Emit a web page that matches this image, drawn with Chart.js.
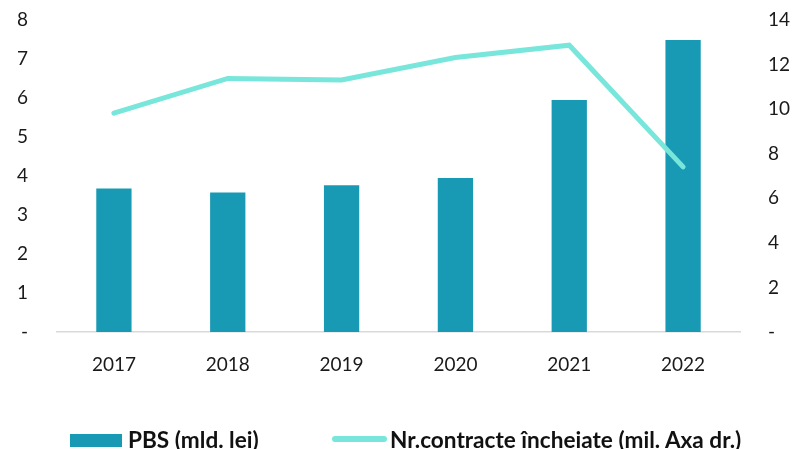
<!DOCTYPE html>
<html>
<head>
<meta charset="utf-8">
<script src="https://cdn.jsdelivr.net/npm/chart.js@4.4.0/dist/chart.umd.min.js"></script>
<style>
    html, body { margin: 0; padding: 0; background: #fff; }
    #wrap { position: relative; width: 797px; height: 449px; }
    #legend { position: absolute; left: 0; top: 426px; width: 797px; height: 26px; }
    .item { position: absolute; top: 0; height: 26px; display: flex; align-items: center;
            font-family: Lato, "Open Sans", sans-serif; font-size: 22.6px; font-weight: bold; color: #111; white-space: nowrap; }
    .swatch { margin-right: 6px; }
</style>
</head>
<body>
<div id="wrap">
    <canvas id="chart" width="797" height="449"></canvas>
    <div id="legend"></div>
</div>
<script>
    const years = ['2017', '2018', '2019', '2020', '2021', '2022'];
    const pbsValues = [3.68, 3.58, 3.76, 3.95, 5.95, 7.49];
    const contractValues = [9.82, 11.38, 11.31, 12.32, 12.87, 7.41];
    const leftTicks = [0, 1, 2, 3, 4, 5, 6, 7, 8];
    const rightTicks = [0, 2, 4, 6, 8, 10, 12, 14];

    const barColor = '#199ab4';
    const lineColor = '#78e6da';
    const fontFamily = 'Lato, "Open Sans", sans-serif';

    // zero shows as a dash, like the source sheet
    function dashZero(value) {
        return value === 0 ? '-' : String(value);
    }

    // keep the plot area fixed; no extra room for half labels
    function fixWidth(scale) {
        scale.width = 57;
        scale.paddingTop = 0;
        scale.paddingBottom = 0;
    }

    const ctx = document.getElementById('chart').getContext('2d');
    const chart = new Chart(ctx, {
        type: 'bar',
        data: {
            labels: years,
            datasets: [
                {
                    type: 'bar',
                    label: 'PBS (mld. lei)',
                    data: pbsValues,
                    yAxisID: 'y',
                    backgroundColor: barColor,
                    categoryPercentage: 1,
                    barPercentage: 0.31,
                    order: 1
                },
                {
                    type: 'line',
                    label: 'Nr.contracte încheiate (mil. Axa dr.)',
                    data: contractValues,
                    yAxisID: 'y1',
                    borderColor: lineColor,
                    backgroundColor: lineColor,
                    borderWidth: 5,
                    borderCapStyle: 'round',
                    pointRadius: 0,
                    tension: 0,
                    order: 0
                }
            ]
        },
        options: {
            responsive: false,
            animation: false,
            layout: { padding: { top: 20, bottom: 57 } },
            scales: {
                x: {
                    grid: { display: false, drawTicks: false },
                    border: { color: '#d9d9d9', width: 1.5 },
                    ticks: { color: '#1a1a1a', font: { family: fontFamily, size: 19 }, padding: 21 },
                    afterFit: function(scale) { scale.height = 60; }
                },
                y: {
                    position: 'left',
                    min: 0,
                    max: 8,
                    afterBuildTicks: function(scale) { scale.ticks = leftTicks.map(v => ({ value: v })); },
                    grid: { display: false, drawTicks: false },
                    border: { display: false },
                    ticks: { color: '#1a1a1a', font: { family: fontFamily, size: 19 }, padding: 29, callback: dashZero },
                    afterFit: fixWidth
                },
                y1: {
                    position: 'right',
                    min: 0,
                    max: 14,
                    afterBuildTicks: function(scale) { scale.ticks = rightTicks.map(v => ({ value: v })); },
                    grid: { display: false, drawTicks: false },
                    border: { display: false },
                    ticks: { color: '#1a1a1a', font: { family: fontFamily, size: 19 }, padding: 28, callback: dashZero },
                    afterFit: fixWidth
                }
            },
            plugins: {
                tooltip: { enabled: false },
                legend: { display: false }
            }
        }
    });

    // Legend built from the datasets
    const legendEl = document.getElementById('legend');
    const legendLeft = [70, 332];
    chart.data.datasets.forEach(function(ds, i) {
        const item = document.createElement('div');
        item.className = 'item';
        item.style.left = legendLeft[i] + 'px';
        const sw = document.createElement('span');
        sw.className = 'swatch';
        if (ds.type === 'line') {
            sw.style.cssText = 'display:inline-block;width:55px;height:6px;border-radius:3px;background:' + ds.borderColor + ';margin-right:3px;';
        } else {
            sw.style.cssText = 'display:inline-block;width:52px;height:13px;background:' + ds.backgroundColor + ';margin-top:2px;';
        }
        item.appendChild(sw);
        item.appendChild(document.createTextNode(ds.label));
        legendEl.appendChild(item);
    });
</script>
</body>
</html>
